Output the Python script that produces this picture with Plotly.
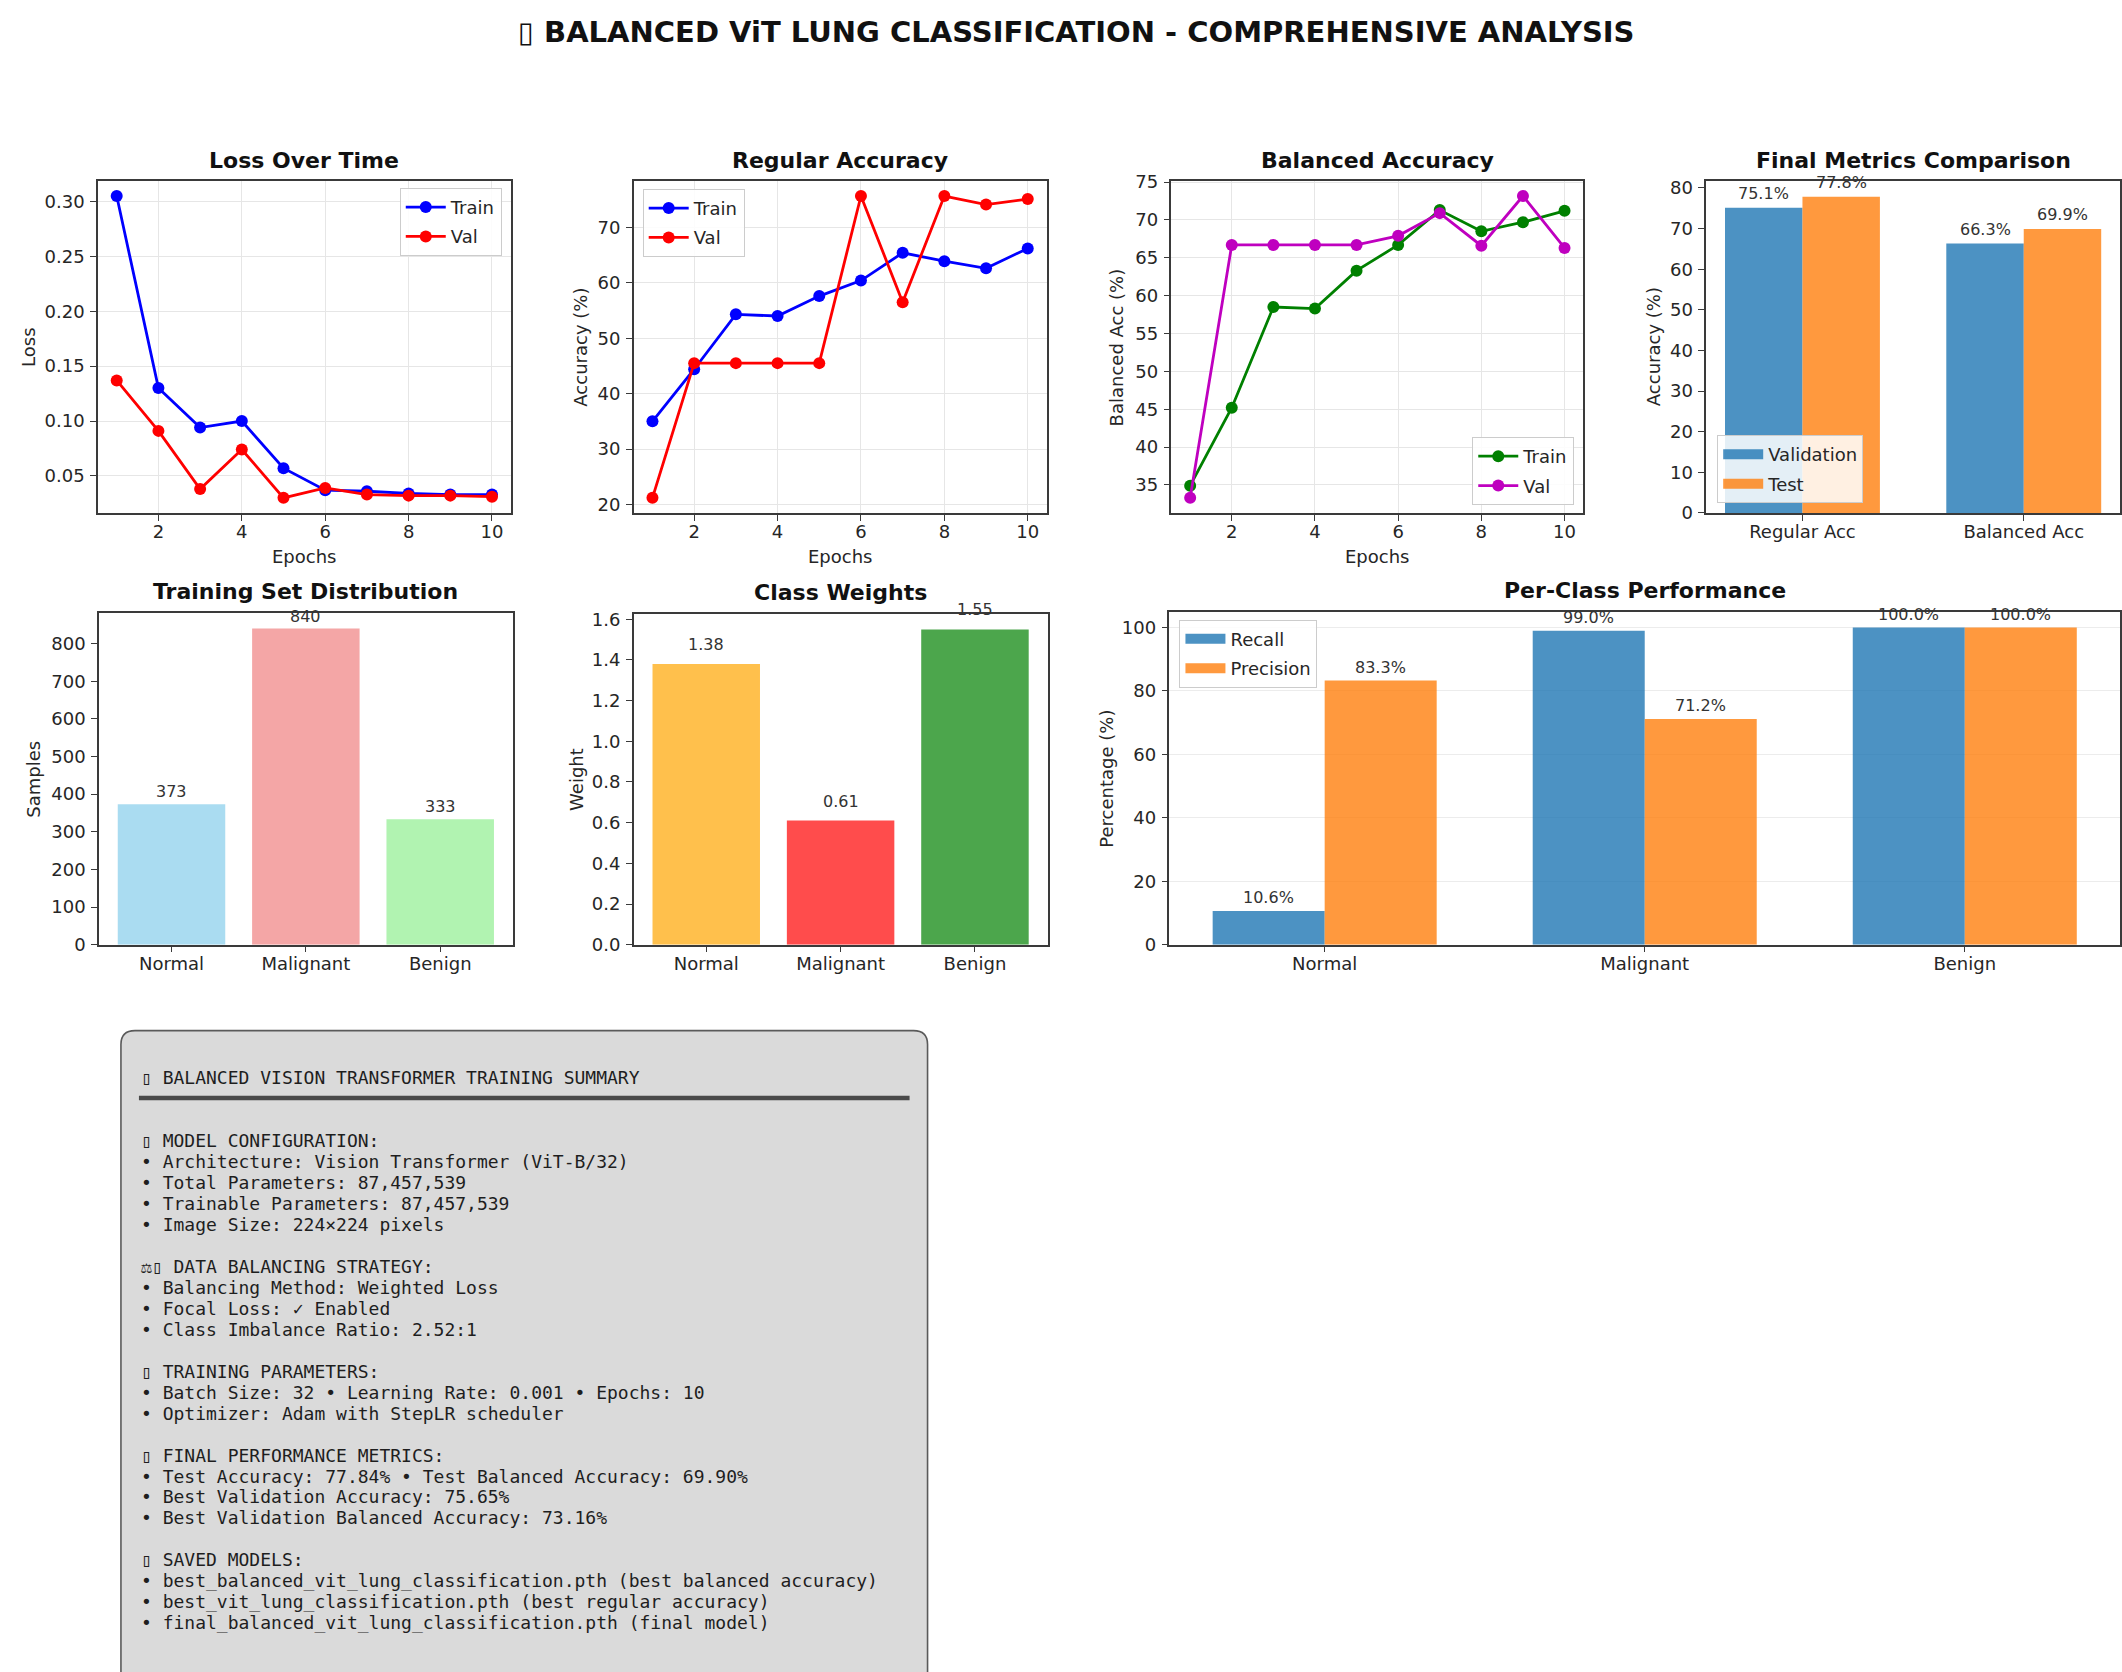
import numpy as np
import plotly.graph_objects as go

# ---------------------------------------------------------------- data
epochs = list(range(1, 11))
train_loss = [0.305, 0.130, 0.094, 0.100, 0.057, 0.037, 0.036, 0.034, 0.033, 0.033]
val_loss = [0.137, 0.091, 0.038, 0.074, 0.030, 0.039, 0.033, 0.032, 0.032, 0.031]
train_acc = [35.0, 44.4, 54.3, 54.0, 57.6, 60.4, 65.4, 63.9, 62.6, 66.2]
val_acc = [21.2, 45.5, 45.5, 45.5, 45.5, 75.65, 56.5, 75.65, 74.1, 75.1]
train_bal_acc = [34.9, 45.2, 58.5, 58.3, 63.3, 66.7, 71.3, 68.5, 69.7, 71.2]
val_bal_acc = [33.3, 66.7, 66.7, 66.7, 66.7, 67.9, 70.9, 66.6, 73.16, 66.3]

metric_names = ["Regular Acc", "Balanced Acc"]
final_val = [75.1, 66.3]
final_test = [77.84, 69.90]

class_names = ["Normal", "Malignant", "Benign"]
train_counts = [373, 840, 333]
class_weights = [1.38, 0.61, 1.55]
recall_pct = [10.6, 99.0, 100.0]
precision_pct = [83.3, 71.2, 100.0]

# None marks the horizontal rule under the heading
summary_lines = [
    "▯ BALANCED VISION TRANSFORMER TRAINING SUMMARY",
    None,
    "",
    "▯ MODEL CONFIGURATION:",
    "• Architecture: Vision Transformer (ViT-B/32)",
    "• Total Parameters: 87,457,539",
    "• Trainable Parameters: 87,457,539",
    "• Image Size: 224×224 pixels",
    "",
    "⚖▯ DATA BALANCING STRATEGY:",
    "• Balancing Method: Weighted Loss",
    "• Focal Loss: ✓ Enabled",
    "• Class Imbalance Ratio: 2.52:1",
    "",
    "▯ TRAINING PARAMETERS:",
    "• Batch Size: 32 • Learning Rate: 0.001 • Epochs: 10",
    "• Optimizer: Adam with StepLR scheduler",
    "",
    "▯ FINAL PERFORMANCE METRICS:",
    "• Test Accuracy: 77.84% • Test Balanced Accuracy: 69.90%",
    "• Best Validation Accuracy: 75.65%",
    "• Best Validation Balanced Accuracy: 73.16%",
    "",
    "▯ SAVED MODELS:",
    "• best_balanced_vit_lung_classification.pth (best balanced accuracy)",
    "• best_vit_lung_classification.pth (best regular accuracy)",
    "• final_balanced_vit_lung_classification.pth (final model)",
]

# ---------------------------------------------------------------- layout helpers
W, H = 2122, 1672
FONT = "DejaVu Sans"
MONO = "DejaVu Sans Mono"
TXT = "#262626"
SPINE = "#3a3a3a"
TAB_BLUE = "rgba(31,119,180,0.8)"
TAB_ORANGE = "rgba(255,127,14,0.8)"


def fx(p):
    return p / W


def fy(p):
    return 1 - p / H


def padded(lo, hi, frac=0.05):
    span = hi - lo
    return [lo - frac * span, hi + frac * span]


# pixel boxes of the seven panels: (left, right, top, bottom)
boxes = {
    1: (98, 511, 173, 509),
    2: (634, 1047, 173, 509),
    3: (1172, 1584, 173, 509),
    4: (1707, 2121, 173, 509),
    5: (99, 513, 610, 946),
    6: (634, 1048, 611, 946),
    7: (1170, 2121, 609, 946),
}


def axis_style(**kw):
    base = dict(showline=True, linecolor=SPINE, linewidth=1.5, mirror=True,
                ticks="outside", ticklen=6, tickwidth=1.3, tickcolor=SPINE,
                tickfont=dict(family=FONT, size=18, color=TXT),
                zeroline=False, showgrid=False, fixedrange=True)
    base.update(kw)
    return base


GRID = dict(showgrid=True, gridcolor="#e6e6e6", gridwidth=1)

fig = go.Figure()
layout = dict(width=W, height=H, margin=dict(l=0, r=0, t=0, b=0),
              paper_bgcolor="white", plot_bgcolor="white",
              barmode="overlay", showlegend=True)
annotations = []
shapes = []


def ax_ids(i):
    return ("x" if i == 1 else f"x{i}"), ("y" if i == 1 else f"y{i}")


def ax_keys(i):
    return ("xaxis" if i == 1 else f"xaxis{i}"), ("yaxis" if i == 1 else f"yaxis{i}")


def set_axes(i, xkw, ykw):
    l, r, t, b = boxes[i]
    xa, ya = ax_ids(i)
    xk, yk = ax_keys(i)
    layout[xk] = axis_style(domain=[fx(l), fx(r)], anchor=ya, ticklabelstandoff=-4, **xkw)
    layout[yk] = axis_style(domain=[fy(b), fy(t)], anchor=xa, ticklabelstandoff=2, **ykw)


def panel_title(i, text):
    l, r, t, b = boxes[i]
    annotations.append(dict(text=f"<b>{text}</b>", x=fx((l + r) / 2), y=fy(t - 21),
                            xref="paper", yref="paper", showarrow=False,
                            xanchor="center", yanchor="middle",
                            font=dict(family=FONT, size=22, color="#111")))


def ylabel(i, text, dx):
    l, r, t, b = boxes[i]
    annotations.append(dict(text=text, x=fx(l - dx), y=fy((t + b) / 2),
                            xref="paper", yref="paper", showarrow=False, textangle=-90,
                            xanchor="center", yanchor="middle",
                            font=dict(family=FONT, size=18, color=TXT)))


def xlabel(i, text):
    l, r, t, b = boxes[i]
    annotations.append(dict(text=text, x=fx((l + r) / 2), y=fy(b + 44),
                            xref="paper", yref="paper", showarrow=False,
                            xanchor="center", yanchor="middle",
                            font=dict(family=FONT, size=18, color=TXT)))


def line_trace(i, y, name, color, legend):
    xa, ya = ax_ids(i)
    return go.Scatter(x=epochs, y=y, name=name, mode="lines+markers",
                      line=dict(color=color, width=2.8),
                      marker=dict(color=color, size=12),
                      xaxis=xa, yaxis=ya, legend=legend,
                      legendgroup=f"{legend}-{name}")


def patch_key(i, name, color, legend):
    # legend-only swatch drawn as a thick bar, like a rectangle patch
    xa, ya = ax_ids(i)
    return go.Scatter(x=[None], y=[None], mode="lines", name=name,
                      line=dict(color=color, width=10), hoverinfo="skip",
                      xaxis=xa, yaxis=ya, legend=legend,
                      legendgroup=f"{legend}-{name}")


def bar_labels(i, xs, vals, fmt, yshift):
    xa, ya = ax_ids(i)
    for xv, v in zip(xs, vals):
        annotations.append(dict(text=fmt.format(v), x=xv, y=v, xref=xa, yref=ya,
                                showarrow=False, xanchor="center", yanchor="bottom",
                                yshift=yshift,
                                font=dict(family=FONT, size=16, color="#333")))


def legend_box(x, y, xanchor, yanchor):
    return dict(x=x, y=y, xanchor=xanchor, yanchor=yanchor,
                xref="paper", yref="paper",
                bgcolor="rgba(255,255,255,0.85)", bordercolor="#cccccc", borderwidth=1,
                font=dict(family=FONT, size=18, color=TXT),
                tracegroupgap=3, itemwidth=40)


epoch_ticks = dict(tickvals=[2, 4, 6, 8, 10], range=[0.55, 10.45])

# ---------------------------------------------------------------- 1. loss
fig.add_trace(line_trace(1, train_loss, "Train", "#0000ff", "legend"))
fig.add_trace(line_trace(1, val_loss, "Val", "#ff0000", "legend"))
set_axes(1, dict(epoch_ticks, **GRID),
         dict(tickvals=[0.05, 0.10, 0.15, 0.20, 0.25, 0.30], tickformat=".2f",
              range=padded(min(train_loss + val_loss), max(train_loss + val_loss)), **GRID))
panel_title(1, "Loss Over Time")
ylabel(1, "Loss", 69)
xlabel(1, "Epochs")
layout["legend"] = legend_box(fx(502), fy(180), "right", "top")

# ---------------------------------------------------------------- 2. regular accuracy
fig.add_trace(line_trace(2, train_acc, "Train", "#0000ff", "legend2"))
fig.add_trace(line_trace(2, val_acc, "Val", "#ff0000", "legend2"))
set_axes(2, dict(epoch_ticks, **GRID),
         dict(tickvals=[20, 30, 40, 50, 60, 70],
              range=padded(min(train_acc + val_acc), max(train_acc + val_acc)), **GRID))
panel_title(2, "Regular Accuracy")
ylabel(2, "Accuracy (%)", 53)
xlabel(2, "Epochs")
layout["legend2"] = legend_box(fx(643), fy(181), "left", "top")

# ---------------------------------------------------------------- 3. balanced accuracy
fig.add_trace(line_trace(3, train_bal_acc, "Train", "#008000", "legend3"))
fig.add_trace(line_trace(3, val_bal_acc, "Val", "#bf00bf", "legend3"))
set_axes(3, dict(epoch_ticks, **GRID),
         dict(tickvals=[35, 40, 45, 50, 55, 60, 65, 70, 75],
              range=padded(min(train_bal_acc + val_bal_acc), max(train_bal_acc + val_bal_acc)),
              **GRID))
panel_title(3, "Balanced Accuracy")
ylabel(3, "Balanced Acc (%)", 55)
xlabel(3, "Epochs")
layout["legend3"] = legend_box(fx(1575), fy(501), "right", "bottom")

# ---------------------------------------------------------------- 4. final metrics
w = 0.35
mx = np.arange(len(metric_names))
fig.add_trace(go.Bar(x=mx, y=final_val, width=w, offset=-w, name="Validation",
                     marker=dict(color=TAB_BLUE, line=dict(width=0)), showlegend=False,
                     xaxis="x4", yaxis="y4"))
fig.add_trace(go.Bar(x=mx, y=final_test, width=w, offset=0, name="Test",
                     marker=dict(color=TAB_ORANGE, line=dict(width=0)), showlegend=False,
                     xaxis="x4", yaxis="y4"))
fig.add_trace(patch_key(4, "Validation", TAB_BLUE, "legend4"))
fig.add_trace(patch_key(4, "Test", TAB_ORANGE, "legend4"))
set_axes(4, dict(tickvals=list(mx), ticktext=metric_names, range=[-0.435, 1.435]),
         dict(tickvals=list(range(0, 81, 10)), range=[0, max(final_test) * 1.05]))
bar_labels(4, mx - w / 2, final_val, "{:.1f}%", 3)
bar_labels(4, mx + w / 2, final_test, "{:.1f}%", 3)
panel_title(4, "Final Metrics Comparison")
ylabel(4, "Accuracy (%)", 52)
layout["legend4"] = legend_box(fx(1718), fy(499), "left", "bottom")

# ---------------------------------------------------------------- 5. training distribution
cx = np.arange(len(class_names))
fig.add_trace(go.Bar(x=cx, y=train_counts, width=0.8, showlegend=False,
                     marker=dict(color=["#87ceeb", "#f08080", "#90ee90"], line=dict(width=0)),
                     opacity=0.7, xaxis="x5", yaxis="y5"))
set_axes(5, dict(tickvals=list(cx), ticktext=class_names, range=[-0.54, 2.54]),
         dict(tickvals=list(range(0, 801, 100)), range=[0, max(train_counts) * 1.05]))
bar_labels(5, cx, train_counts, "{}", 1)
panel_title(5, "Training Set Distribution")
ylabel(5, "Samples", 65)

# ---------------------------------------------------------------- 6. class weights
fig.add_trace(go.Bar(x=cx, y=class_weights, width=0.8, showlegend=False,
                     marker=dict(color=["#ffa500", "#ff0000", "#008000"], line=dict(width=0)),
                     opacity=0.7, xaxis="x6", yaxis="y6"))
set_axes(6, dict(tickvals=list(cx), ticktext=class_names, range=[-0.54, 2.54]),
         dict(tickvals=[0, 0.2, 0.4, 0.6, 0.8, 1.0, 1.2, 1.4, 1.6], tickformat=".1f",
              range=[0, max(class_weights) * 1.05]))
bar_labels(6, cx, class_weights, "{:.2f}", 8)
panel_title(6, "Class Weights")
ylabel(6, "Weight", 58)

# ---------------------------------------------------------------- 7. per-class performance
fig.add_trace(go.Bar(x=cx, y=recall_pct, width=w, offset=-w, name="Recall",
                     marker=dict(color=TAB_BLUE, line=dict(width=0)), showlegend=False,
                     xaxis="x7", yaxis="y7"))
fig.add_trace(go.Bar(x=cx, y=precision_pct, width=w, offset=0, name="Precision",
                     marker=dict(color=TAB_ORANGE, line=dict(width=0)), showlegend=False,
                     xaxis="x7", yaxis="y7"))
fig.add_trace(patch_key(7, "Recall", TAB_BLUE, "legend5"))
fig.add_trace(patch_key(7, "Precision", TAB_ORANGE, "legend5"))
set_axes(7, dict(tickvals=list(cx), ticktext=class_names, range=[-0.485, 2.485]),
         dict(tickvals=[0, 20, 40, 60, 80, 100], range=[0, 105],
              showgrid=True, gridcolor="#ececec", gridwidth=1))
bar_labels(7, cx - w / 2, recall_pct, "{:.1f}%", 2)
bar_labels(7, cx + w / 2, precision_pct, "{:.1f}%", 2)
panel_title(7, "Per-Class Performance")
ylabel(7, "Percentage (%)", 63)
layout["legend5"] = legend_box(fx(1180), fy(617), "left", "top")

# ---------------------------------------------------------------- main title
annotations.append(dict(text="<b>▯ BALANCED ViT LUNG CLASSIFICATION - COMPREHENSIVE ANALYSIS</b>",
                        x=fx(1077), y=fy(22), xref="paper", yref="paper", showarrow=False,
                        xanchor="center", yanchor="middle",
                        font=dict(family=FONT, size=29, color="#111")))

# ---------------------------------------------------------------- summary panel
bx0, bx1, by0, by1, rad = 121, 928, 1033, 1700, 14
corner_pts = [
    ("M", bx0 + rad, by0), ("L", bx1 - rad, by0), ("Q", bx1, by0, bx1, by0 + rad),
    ("L", bx1, by1 - rad), ("Q", bx1, by1, bx1 - rad, by1), ("L", bx0 + rad, by1),
    ("Q", bx0, by1, bx0, by1 - rad), ("L", bx0, by0 + rad), ("Q", bx0, by0, bx0 + rad, by0),
]
path = ""
for seg in corner_pts:
    cmd, coords = seg[0], seg[1:]
    pairs = [f"{fx(coords[k]):.5f},{fy(coords[k + 1]):.5f}" for k in range(0, len(coords), 2)]
    path += f"{cmd} {' '.join(pairs)} "
path += "Z"
shapes.append(dict(type="path", path=path, xref="paper", yref="paper",
                   fillcolor="#dadada", line=dict(color="#5a5a5a", width=1.6), layer="below"))

line_step = 21.25
text_left = 139
for k, txt in enumerate(summary_lines):
    ypix = 1080 + k * line_step
    if txt is None:
        shapes.append(dict(type="line", xref="paper", yref="paper",
                           x0=fx(text_left), x1=fx(910), y0=fy(ypix), y1=fy(ypix),
                           line=dict(color="#4a4a4a", width=4.5)))
        continue
    if not txt:
        continue
    annotations.append(dict(text=txt, x=fx(text_left), y=fy(ypix),
                            xref="paper", yref="paper", showarrow=False,
                            xanchor="left", yanchor="middle", align="left",
                            font=dict(family=MONO, size=18, color="#1e1e1e")))

layout["annotations"] = annotations
layout["shapes"] = shapes
fig.update_layout(**layout)
fig.write_html("out.html")
